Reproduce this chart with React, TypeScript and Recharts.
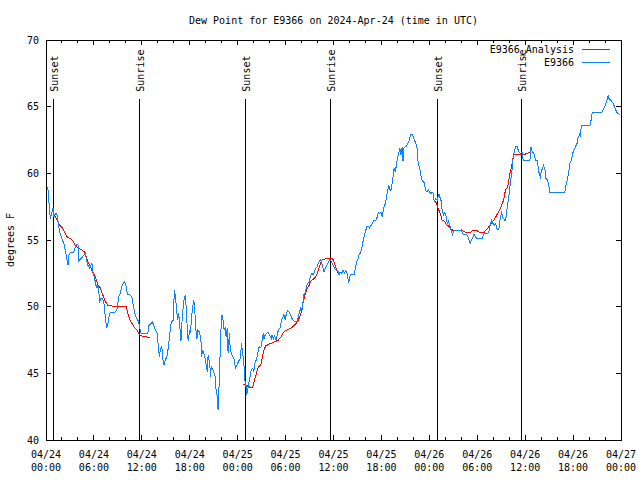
import { LineChart, Line, XAxis, YAxis, ReferenceLine, ReferenceArea } from "recharts";

const FONT = "'DejaVu Sans Mono', monospace";
const OBS_COLOR = "#0a84ff";
const ANL_COLOR = "#ff0000";

const W = 640;
const H = 480;
const PLOT = { left: 46, right: 621, top: 40, bottom: 440 };

// hours since 04/24 00:00 UTC
const X_TICKS = [0, 2, 4, 6, 8, 10, 12, 14, 16, 18, 20, 22, 24, 26, 28, 30, 32, 34, 36, 38, 40, 42, 44, 46, 48, 50, 52, 54, 56, 58, 60, 62, 64, 66, 68, 70, 72];
const X_TICK_DATES = ["04/24", "04/24", "04/24", "04/24", "04/25", "04/25", "04/25", "04/25", "04/26", "04/26", "04/26", "04/26", "04/27"];
const X_TICK_TIMES = ["00:00", "06:00", "12:00", "18:00", "00:00", "06:00", "12:00", "18:00", "00:00", "06:00", "12:00", "18:00", "00:00"];
const Y_TICKS = [40, 45, 50, 55, 60, 65, 70];

const SUNSET_HOURS = [0.88, 24.97, 49.06];
const SUNRISE_HOURS = [11.67, 35.63, 59.6];
const SUN_LINE_TOP = 65.6;

// [hour, dew point F]
const E9366_OBS: [number, number][] = [
  [0.21, 59.0], [0.3, 58.4], [0.46, 57.1], [0.55, 56.6], [0.7, 57.0], [0.88, 57.4], [1.0, 56.75], [1.21, 57.0],
  [1.38, 56.9], [1.55, 56.25], [1.71, 55.6], [2.0, 55.1], [2.3, 54.6], [2.46, 54.1], [2.63, 53.5], [2.75, 53.1],
  [2.88, 53.9], [3.05, 54.1], [3.46, 54.1], [3.67, 54.5], [3.88, 54.7], [4.02, 54.6], [4.05, 53.4], [4.38, 53.6],
  [4.92, 54.0], [5.05, 53.6], [5.25, 53.1], [5.46, 52.9], [5.75, 53.25], [5.88, 52.6], [6.05, 52.25], [6.25, 51.6],
  [6.38, 51.4], [6.5, 51.6], [6.63, 51.0], [6.71, 50.4], [6.88, 50.6], [7.1, 50.6], [7.3, 50.1], [7.42, 49.25],
  [7.6, 48.4], [7.75, 48.75], [7.96, 49.5], [8.25, 49.6], [8.67, 49.6], [8.88, 49.75], [9.1, 50.75], [9.3, 51.0],
  [9.55, 51.6], [9.8, 51.9], [10.0, 51.6], [10.2, 50.9], [10.5, 50.9], [10.75, 50.75], [10.96, 50.0], [11.17, 49.4],
  [11.38, 49.1], [11.6, 48.9], [11.7, 48.5], [11.9, 48.0], [12.75, 48.0], [12.9, 48.6], [13.2, 48.75], [13.3, 48.9],
  [13.6, 48.4], [13.9, 48.0], [14.0, 47.4], [14.2, 46.25], [14.3, 46.75], [14.5, 47.0], [14.6, 46.25], [14.75, 45.6],
  [14.96, 46.0], [15.2, 46.4], [15.4, 47.4], [15.5, 48.0], [15.7, 48.9], [15.9, 48.9], [16.0, 50.25], [16.1, 51.25],
  [16.2, 50.75], [16.4, 49.5], [16.5, 49.0], [16.6, 49.5], [16.7, 49.0], [16.9, 47.4], [17.0, 48.6], [17.1, 49.5],
  [17.25, 50.4], [17.45, 50.9], [17.55, 50.0], [17.7, 48.25], [17.8, 47.4], [18.0, 48.25], [18.1, 48.0], [18.2, 49.1],
  [18.4, 50.1], [18.5, 50.5], [18.6, 50.0], [18.8, 48.0], [18.9, 47.6], [19.0, 48.25], [19.2, 48.1], [19.4, 47.5],
  [19.5, 46.25], [19.6, 46.75], [19.8, 46.4], [19.96, 46.0], [20.2, 45.1], [20.3, 46.4], [20.5, 45.75], [20.6, 44.75],
  [20.7, 45.5], [20.9, 45.25], [21.1, 44.9], [21.2, 44.75], [21.3, 43.75], [21.4, 43.5], [21.55, 42.25], [21.6, 43.25],
  [21.75, 45.0], [21.8, 46.5], [21.96, 49.0], [22.05, 49.4], [22.2, 48.9], [22.3, 48.25], [22.45, 48.4], [22.55, 47.75],
  [22.7, 48.4], [22.8, 46.5], [22.96, 48.0], [23.05, 47.0], [23.2, 46.5], [23.4, 46.25], [23.6, 46.0], [23.7, 45.4],
  [23.9, 45.6], [24.1, 45.9], [24.3, 46.1], [24.5, 47.25], [24.6, 46.5], [24.75, 46.0], [24.9, 44.5], [25.05, 44.0],
  [25.13, 43.4], [25.25, 43.75], [25.4, 44.25], [25.5, 44.6], [25.7, 45.25], [25.9, 45.4], [26.0, 45.1], [26.17, 45.75],
  [26.38, 46.1], [26.5, 46.5], [26.7, 47.0], [26.9, 46.9], [27.0, 47.25], [27.2, 48.0], [27.3, 47.6], [27.46, 47.9],
  [27.6, 48.0], [27.8, 48.1], [27.96, 47.9], [28.2, 47.6], [28.3, 47.9], [28.5, 47.5], [28.6, 47.9], [28.8, 47.5],
  [29.0, 48.0], [29.1, 48.25], [29.3, 48.4], [29.5, 49.0], [29.6, 49.1], [29.8, 49.4], [29.96, 49.0], [30.1, 49.5],
  [30.3, 49.7], [30.5, 49.55], [30.6, 49.4], [30.8, 49.1], [30.96, 49.0], [31.1, 48.9], [31.4, 48.9], [31.5, 49.05],
  [31.7, 49.5], [31.9, 49.9], [32.05, 49.75], [32.2, 50.4], [32.3, 50.9], [32.5, 51.1], [32.6, 51.5], [32.8, 51.75],
  [32.96, 51.9], [33.1, 52.25], [33.3, 52.5], [33.46, 52.4], [33.6, 52.6], [33.8, 52.9], [33.96, 53.0], [34.1, 53.25],
  [34.3, 53.45], [34.4, 53.55], [34.6, 53.1], [34.8, 52.6], [35.0, 52.9], [35.4, 53.4], [35.5, 53.5], [35.7, 53.4],
  [35.9, 53.2], [36.1, 52.9], [36.3, 52.75], [36.5, 52.75], [36.7, 52.4], [36.8, 52.6], [37.05, 52.5], [37.2, 52.75],
  [37.4, 52.5], [37.5, 52.7], [37.7, 52.5], [37.9, 51.75], [38.05, 52.25], [38.2, 52.45], [38.6, 52.45], [38.7, 52.75],
  [38.9, 53.4], [39.05, 53.5], [39.2, 53.9], [39.4, 54.05], [39.55, 54.4], [39.7, 54.9], [39.9, 55.4], [40.05, 55.75],
  [40.2, 56.05], [40.4, 56.05], [40.5, 55.9], [40.7, 56.1], [40.9, 56.25], [41.05, 56.5], [41.3, 56.5], [41.5, 56.75],
  [41.6, 57.05], [41.8, 57.0], [41.96, 57.1], [42.1, 56.75], [42.3, 57.4], [42.5, 57.75], [42.6, 58.1], [42.8, 58.75],
  [42.9, 59.1], [43.1, 58.75], [43.2, 58.75], [43.4, 59.4], [43.5, 60.0], [43.6, 60.4], [43.75, 60.1], [43.9, 60.75],
  [44.05, 61.25], [44.2, 61.6], [44.3, 61.9], [44.45, 61.4], [44.6, 62.0], [44.7, 60.9], [44.8, 61.9], [45.0, 62.0],
  [45.1, 62.0], [45.3, 62.2], [45.5, 62.5], [45.6, 62.75], [45.7, 62.9], [45.9, 62.9], [46.05, 62.6], [46.2, 62.4],
  [46.4, 62.1], [46.5, 61.75], [46.6, 60.75], [46.75, 60.5], [46.9, 60.0], [47.05, 59.5], [47.2, 59.4], [47.4, 59.25],
  [47.5, 58.75], [47.7, 58.6], [47.9, 58.75], [48.05, 58.6], [48.2, 58.45], [48.35, 58.6], [48.5, 58.5], [48.6, 57.9],
  [48.8, 58.1], [49.0, 58.0], [49.2, 58.45], [49.3, 58.25], [49.5, 57.9], [49.6, 57.25], [49.8, 56.9], [49.96, 57.05],
  [50.1, 56.75], [50.25, 56.25], [50.4, 56.4], [50.5, 56.25], [50.7, 55.75], [50.9, 55.4], [51.0, 55.6], [51.2, 55.75],
  [51.5, 55.75], [51.8, 55.7], [52.0, 55.75], [52.2, 55.45], [52.6, 55.45], [52.8, 55.3], [52.96, 55.0], [53.1, 54.75],
  [53.3, 55.0], [53.5, 55.25], [53.6, 55.45], [53.8, 55.2], [54.0, 55.1], [54.6, 55.1], [54.8, 55.45], [55.05, 55.5],
  [55.3, 55.5], [55.5, 55.7], [55.6, 56.1], [55.8, 56.45], [55.96, 56.25], [56.1, 56.1], [56.3, 56.25], [56.5, 55.8],
  [56.7, 55.8], [56.9, 56.75], [57.05, 57.05], [57.2, 56.7], [57.4, 56.5], [57.55, 56.45], [57.7, 57.25], [57.9, 58.0],
  [58.05, 58.75], [58.2, 59.5], [58.4, 60.5], [58.5, 61.25], [58.7, 61.75], [58.85, 62.05], [59.0, 62.0], [59.2, 61.6],
  [59.4, 61.5], [59.6, 61.6], [59.75, 61.0], [60.25, 61.0], [60.6, 61.0], [60.7, 62.0], [60.9, 61.6], [61.1, 61.5],
  [61.3, 61.0], [61.5, 60.95], [61.6, 60.6], [61.75, 60.0], [61.9, 59.75], [62.0, 60.1], [62.2, 60.45], [62.3, 60.6],
  [62.5, 60.25], [62.6, 59.6], [62.8, 59.5], [62.9, 59.25], [63.1, 58.6], [64.97, 58.6], [65.1, 59.1], [65.3, 59.6],
  [65.5, 60.25], [65.6, 60.75], [65.8, 61.0], [65.96, 61.5], [66.1, 61.75], [66.3, 62.0], [66.5, 62.25], [66.6, 62.6],
  [66.8, 62.9], [66.9, 62.75], [66.96, 63.25], [67.1, 63.6], [68.1, 63.6], [68.3, 64.1], [68.4, 64.55], [69.6, 64.55],
  [69.8, 64.8], [69.9, 64.9], [70.1, 65.25], [70.3, 65.6], [70.4, 65.9], [70.5, 65.6], [70.8, 65.45], [71.05, 65.2],
  [71.3, 64.8], [71.55, 64.5], [71.9, 64.4],
];

// analysis runs only in three windows; nulls break the line
const E9366_ANALYSIS: [number, number | null][] = [
  [0.9, 57.0], [1.4, 56.5], [1.7, 56.1], [2.0, 55.95], [2.3, 55.6], [2.63, 55.25], [3.05, 55.1], [3.4, 54.9],
  [3.67, 54.55], [4.1, 54.4], [4.5, 54.25], [4.8, 54.1], [4.96, 53.9], [5.2, 53.4], [5.55, 53.0], [5.84, 52.6],
  [6.17, 52.25], [6.5, 51.6], [6.8, 51.4], [7.1, 50.9], [7.4, 50.4], [7.75, 50.1], [8.25, 50.05], [10.0, 50.05],
  [10.2, 49.6], [10.46, 49.1], [10.75, 48.75], [11.0, 48.5], [11.4, 48.25], [11.7, 47.9], [12.2, 47.75], [13.0, 47.7],
  [18.0, null],
  [24.7, 44.2], [25.05, 44.1], [25.4, 44.0], [25.7, 43.9], [25.9, 44.0], [26.1, 44.5], [26.4, 45.1], [26.6, 45.5],
  [26.9, 45.6], [27.1, 46.25], [27.3, 46.75], [27.5, 47.05], [27.96, 47.2], [28.4, 47.3], [28.8, 47.4], [29.1, 47.5],
  [29.4, 47.7], [29.6, 47.95], [29.96, 48.2], [30.4, 48.3], [30.8, 48.45], [31.1, 48.6], [31.4, 48.8], [31.6, 49.0],
  [31.9, 49.4], [32.1, 50.0], [32.3, 50.6], [32.5, 51.0], [32.7, 51.4], [32.96, 51.6], [33.1, 51.9], [33.46, 52.05],
  [33.7, 52.2], [33.96, 52.5], [34.2, 52.9], [34.4, 53.3], [34.6, 53.55], [35.4, 53.6], [35.9, 53.6], [36.2, 53.1],
  [36.6, 52.5],
  [42.0, null],
  [48.6, 58.0], [48.9, 57.75], [49.1, 57.4], [49.4, 56.9], [49.6, 56.5], [49.9, 56.4], [50.1, 56.2], [50.4, 56.05],
  [50.6, 55.9], [50.9, 55.75], [51.7, 55.75], [52.1, 55.7], [52.5, 55.6], [52.9, 55.55], [53.2, 55.6], [53.5, 55.75],
  [53.9, 55.75], [54.2, 55.6], [54.9, 55.6], [55.1, 55.75], [55.4, 55.95], [55.6, 56.1], [55.96, 56.4], [56.3, 56.7],
  [56.55, 57.0], [56.8, 57.25], [57.05, 57.6], [57.3, 58.0], [57.55, 58.8], [57.8, 58.95], [57.96, 59.5], [58.1, 60.05],
  [58.3, 60.5], [58.46, 61.1], [58.6, 61.45], [59.2, 61.45], [59.6, 61.4], [60.05, 61.45], [60.6, 61.6],
];

function XTick({ x, payload }: any) {
  const v = payload.value;
  const major = v % 6 === 0;
  const len = major ? 5 : 3;
  const i = v / 6;
  return (
    <g>
      <line x1={x} x2={x} y1={PLOT.bottom} y2={PLOT.bottom - len} stroke="#000" shapeRendering="crispEdges" />
      <line x1={x} x2={x} y1={PLOT.top} y2={PLOT.top + len} stroke="#000" shapeRendering="crispEdges" />
      {major && (
        <text textAnchor="middle" fontFamily={FONT} fontSize={10} fill="#000">
          <tspan x={x} y={458}>{X_TICK_DATES[i]}</tspan>
          <tspan x={x} y={471}>{X_TICK_TIMES[i]}</tspan>
        </text>
      )}
    </g>
  );
}

function YTick({ y, payload }: any) {
  return (
    <g>
      <line x1={PLOT.left} x2={PLOT.left + 5} y1={y} y2={y} stroke="#000" shapeRendering="crispEdges" />
      <line x1={PLOT.right} x2={PLOT.right - 5} y1={y} y2={y} stroke="#000" shapeRendering="crispEdges" />
      <text x={PLOT.left - 7} y={y + 3.5} textAnchor="end" fontFamily={FONT} fontSize={10} fill="#000">
        {payload.value}
      </text>
    </g>
  );
}

function sunShape(label: string) {
  return (props: any) => {
    const top = Math.min(props.y1, props.y2);
    const bottom = Math.max(props.y1, props.y2);
    return (
      <g>
        <line
          x1={props.x1}
          x2={props.x1}
          y1={bottom}
          y2={top}
          stroke="#000"
          strokeWidth={1}
          shapeRendering="crispEdges"
        />
        <text
          transform={`translate(${props.x1 + 4.5},${top - 7}) rotate(-90)`}
          textAnchor="start"
          fontFamily={FONT}
          fontSize={10}
          fill="#000"
        >
          {label}
        </text>
      </g>
    );
  };
}

export default function App() {
  const obsData = E9366_OBS.map(([h, v]) => ({ h, v }));
  const anlData = E9366_ANALYSIS.map(([h, v]) => ({ h, v }));
  const sunEvents = [
    ...SUNSET_HOURS.map((h) => ({ h, label: "Sunset" })),
    ...SUNRISE_HOURS.map((h) => ({ h, label: "Sunrise" })),
  ];

  return (
    <div style={{ position: "relative", width: W, height: H, background: "#fff" }}>
      <style>{"body{margin:0}"}</style>
      <LineChart
        width={W}
        height={H}
        margin={{ top: PLOT.top, right: W - PLOT.right, bottom: 0, left: 0 }}
      >
        <XAxis
          type="number"
          dataKey="h"
          domain={[0, 72]}
          ticks={X_TICKS}
          interval={0}
          tick={<XTick />}
          tickLine={false}
          axisLine={false}
          height={H - PLOT.bottom}
          allowDataOverflow
        />
        <YAxis
          type="number"
          domain={[40, 70]}
          ticks={Y_TICKS}
          interval={0}
          tick={<YTick />}
          tickLine={false}
          axisLine={false}
          width={PLOT.left}
        />
        <ReferenceArea
          x1={0}
          x2={72}
          y1={40}
          y2={70}
          fill="none"
          fillOpacity={0}
          stroke="#000"
          strokeWidth={1}
          shapeRendering="crispEdges"
        />
        {sunEvents.map((e) => (
          <ReferenceLine
            key={`${e.label}-${e.h}`}
            segment={[{ x: e.h, y: 40 }, { x: e.h, y: SUN_LINE_TOP }]}
            shape={sunShape(e.label)}
          />
        ))}
        <Line
          data={anlData}
          dataKey="v"
          type="linear"
          stroke={ANL_COLOR}
          strokeWidth={1}
          dot={false}
          activeDot={false}
          connectNulls={false}
          shapeRendering="crispEdges"
          isAnimationActive={false}
        />
        <Line
          data={obsData}
          dataKey="v"
          type="linear"
          stroke={OBS_COLOR}
          strokeWidth={1}
          dot={false}
          activeDot={false}
          shapeRendering="crispEdges"
          isAnimationActive={false}
        />
      </LineChart>
      <svg
        width={W}
        height={H}
        style={{ position: "absolute", left: 0, top: 0, pointerEvents: "none" }}
        fontFamily={FONT}
        fontSize={10}
      >
        <text x={(PLOT.left + PLOT.right) / 2} y={24} textAnchor="middle">
          Dew Point for E9366 on 2024-Apr-24 (time in UTC)
        </text>
        <text transform={`translate(14,${(PLOT.top + PLOT.bottom) / 2}) rotate(-90)`} textAnchor="middle">
          degrees F
        </text>
        <text x={574} y={53} textAnchor="end">E9366_Analysis</text>
        <line x1={582} x2={610} y1={49.5} y2={49.5} stroke={ANL_COLOR} shapeRendering="crispEdges" />
        <text x={574} y={66} textAnchor="end">E9366</text>
        <line x1={582} x2={610} y1={62.5} y2={62.5} stroke={OBS_COLOR} shapeRendering="crispEdges" />
      </svg>
    </div>
  );
}
